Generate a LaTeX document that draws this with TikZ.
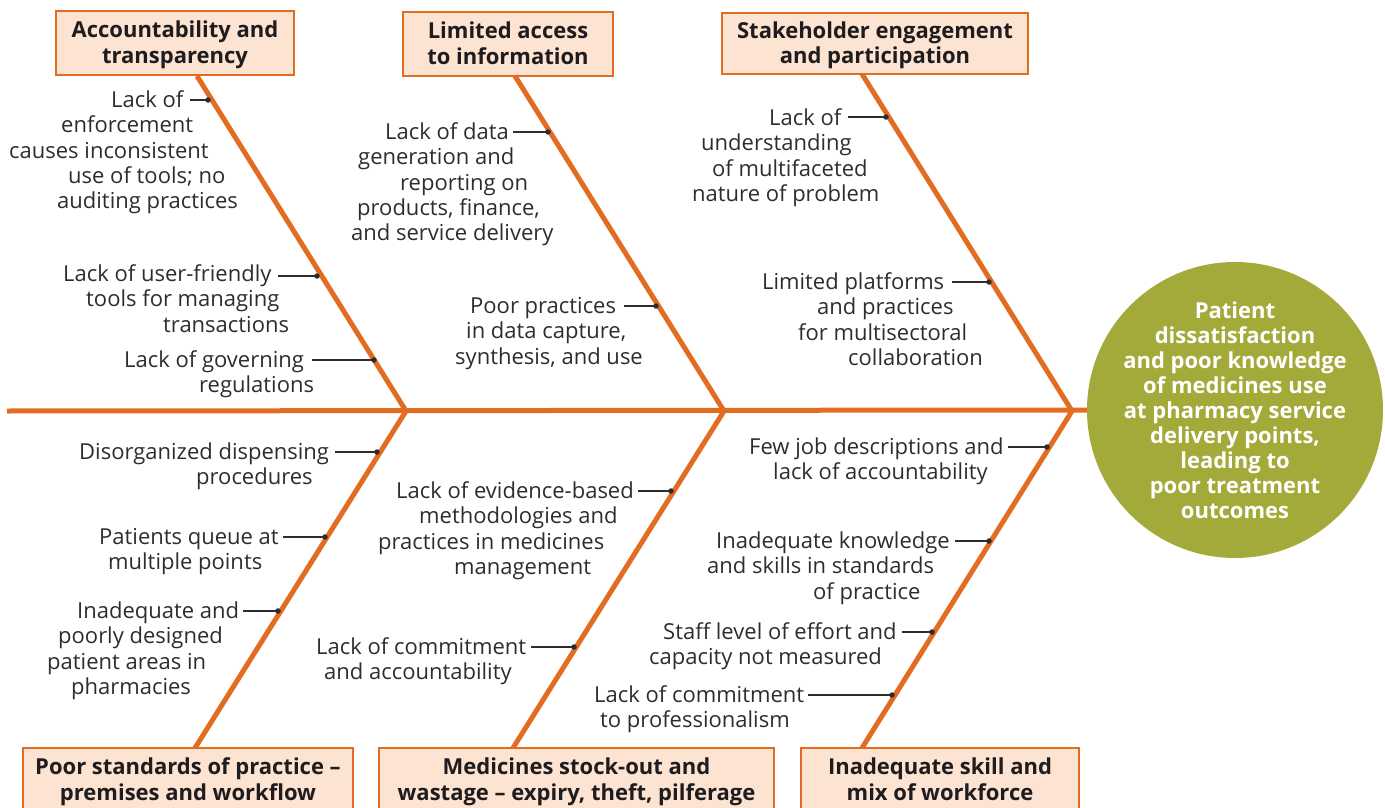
\documentclass[tikz,border=0pt]{standalone}
\usepackage{fontspec}
\setmainfont{Open Sans}
\definecolor{bone}{RGB}{226,108,34}
\definecolor{boxfill}{RGB}{252,227,210}
\definecolor{olive}{RGB}{164,170,58}
\definecolor{txt}{RGB}{45,45,45}
\definecolor{head}{RGB}{30,28,30}
\newcommand{\fs}{\rule{0pt}{23pt}}
\begin{document}
\begin{tikzpicture}[x=1pt,y=-1pt,
  bonestyle/.style={draw=bone,line width=5pt,line join=miter},
  hbox/.style={draw=bone,fill=boxfill,line width=2.5pt,font=\fontsize{22}{25.5}\selectfont\bfseries,text=head,align=center,inner sep=0},
  lab/.style={anchor=north west,inner sep=0,align=left,font=\fontsize{22}{25.3}\selectfont,text=txt},
  lead/.style={draw=txt,line width=1.1pt},
  dotst/.style={fill=txt,circle,inner sep=0,minimum size=5.5pt}]
\useasboundingbox (0,0) rectangle (1385,808);
\clip (0,0) rectangle (1385,808);

% head
\node[circle,fill=olive,minimum size=296pt,inner sep=0] (head) at (1235,410) {};
\node[text=white,font=\fontsize{22}{25}\selectfont\bfseries,align=center,inner sep=0] (headtxt) at (head.center)
 {Patient\\dissatisfaction\\and poor knowledge\\of medicines use\\at pharmacy service\\delivery points,\\leading to\\poor treatment\\outcomes};

% boxes
\node[hbox,minimum width=238pt,minimum height=64pt] (bA) at (175,43) {\fs Accountability and\\transparency\strut};
\node[hbox,minimum width=210pt,minimum height=64pt] (bB) at (508,44) {\fs Limited access\\to information\strut};
\node[hbox,minimum width=306pt,minimum height=61pt] (bC) at (875,43.5) {\fs Stakeholder engagement\\and participation\strut};
\node[hbox,minimum width=330pt,minimum height=64pt] (bD) at (188,780) {\fs Poor standards of practice --\\premises and workflow\strut};
\node[hbox,minimum width=395pt,minimum height=64pt] (bE) at (576.5,780) {\fs Medicines stock-out and\\wastage -- expiry, theft, pilferage\strut};
\node[hbox,minimum width=278pt,minimum height=64pt] (bF) at (940,780) {\fs Inadequate skill and\\mix of workforce\strut};

% spine
\coordinate (tail) at (7,411);
\coordinate (j1) at (406,411);
\coordinate (j2) at (724,411);
\coordinate (j3) at (1072,411);
\coordinate (tA) at (197,76);
\coordinate (tB) at (515,76);
\coordinate (tC) at (862,74);
\coordinate (tD) at (195,748);
\coordinate (tE) at (513,748);
\coordinate (tF) at (862,748);
\draw[bonestyle] (tail) -- (head.west);
\draw[bonestyle] (tA) -- (j1) -- (tD);
\draw[bonestyle] (tB) -- (j2) -- (tE);
\draw[bonestyle] (tC) -- (j3) -- (tF);

% labels
\node[lab] (lA1) at (9,89.5) {\hspace*{102pt}\strut Lack of\\\hspace*{52pt}enforcement\\causes inconsistent\\\hspace*{59pt}use of tools; no\\\hspace*{48pt}auditing practices};
\node[lab] (lA2) at (63,263.5) {\strut Lack of user-friendly\\\hspace*{23pt}tools for managing\\\hspace*{100pt}transactions};
\node[lab] (lA3) at (124,349.5) {\strut Lack of governing\\\hspace*{75pt}regulations};
\node[lab] (lB1) at (351,121.5) {\hspace*{34pt}\strut Lack of data\\\hspace*{7pt}generation and\\\hspace*{49pt}reporting on\\\hspace*{6pt}products, finance,\\and service delivery};
\node[lab] (lB2) at (455,295.5) {\hspace*{15pt}\strut Poor practices\\\hspace*{11pt}in data capture,\\synthesis, and use};
\node[lab] (lC1) at (692,107.5) {\hspace*{77pt}\strut Lack of\\\hspace*{9pt}understanding\\\hspace*{20pt}of multifaceted\\nature of problem};
\node[lab] (lC2) at (762,271.5) {\strut Limited platforms\\\hspace*{55pt}and practices\\\hspace*{36pt}for multisectoral\\\hspace*{86pt}collaboration};
\node[lab] (lD1) at (79,441.5) {\strut Disorganized dispensing\\\hspace*{117pt}procedures};
\node[lab] (lD2) at (99,526.5) {\strut Patients queue at\\\hspace*{9pt}multiple points};
\node[lab] (lD3) at (47,600.5) {\hspace*{30pt}\strut Inadequate and\\\hspace*{11pt}poorly designed\\patient areas in\\\hspace*{24pt}pharmacies};
\node[lab] (lE1) at (378,480.5) {\hspace*{18pt}\strut Lack of evidence-based\\\hspace*{41pt}methodologies and\\practices in medicines\\\hspace*{76pt}management};
\node[lab] (lE2) at (316,636.5) {\strut Lack of commitment\\\hspace*{8pt}and accountability};
\node[lab] (lF1) at (749,436.5) {\strut Few job descriptions and\\\hspace*{24pt}lack of accountability};
\node[lab] (lF2) at (707,530.5) {\hspace*{9pt}\strut Inadequate knowledge\\and skills in standards\\\hspace*{106pt}of practice};
\node[lab] (lF3) at (649,621.5) {\hspace*{14pt}\strut Staff level of effort and\\capacity not measured};
\node[lab] (lF4) at (594,684.5) {\strut Lack of commitment\\\hspace*{6pt}to professionalism};

% leader lines and dots
\foreach \n/\sx/\dx/\yy in {A1/190/208/100, A2/278/317/276, A3/312/374/360,
  B1/513/548/132, B2/624/656/306, C1/848/886/117, C2/952/989/282,
  D1/335/377/452, D2/283/325/537, D3/243/278/611, E1/638/671/491, E2/531/574/647,
  F1/1008/1047/447, F2/955/989/541, F3/902/932/632, F4/808/892/695}{
  \coordinate (s\n) at (\sx,\yy);
  \node[dotst] (d\n) at (\dx,\yy) {};
  \draw[lead] (s\n) -- (d\n.center);
}
\end{tikzpicture}
\end{document}
